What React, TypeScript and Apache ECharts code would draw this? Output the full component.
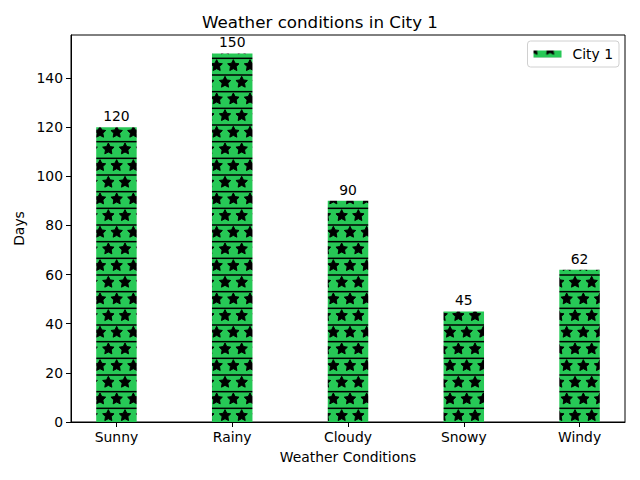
import React, { useEffect, useRef } from "react";
import * as echarts from "echarts";

const categories = ["Sunny", "Rainy", "Cloudy", "Snowy", "Windy"];
const days = [120, 150, 90, 45, 62];
const yTicks = [0, 20, 40, 60, 80, 100, 120, 140];
const seriesName = "City 1";
const FONT = "DejaVu Sans";
const GREEN = "#27c856";

function makeHatch(): HTMLCanvasElement {
  const size = 100;
  const c = document.createElement("canvas");
  c.width = size;
  c.height = size;
  const ctx = c.getContext("2d")!;
  ctx.fillStyle = GREEN;
  ctx.fillRect(0, 0, size, size);
  const step = size / 6;
  ctx.fillStyle = "#000";
  for (let k = -1; k <= 6; k++) {
    const y = step / 2 + k * step;
    ctx.fillRect(0, y - 0.75, size, 1.5);
  }
  const R = 6.0;
  const r = R * 0.5;
  ctx.strokeStyle = "#000";
  ctx.lineWidth = 1;
  for (let k = -1; k <= 7; k++) {
    const cy = k * step - 1;
    const off = Math.abs(k) % 2 === 1 ? step / 2 : 0;
    for (let j = -1; j <= 7; j++) {
      const cx = j * step + off;
      ctx.beginPath();
      for (let i = 0; i < 10; i++) {
        const rad = i % 2 === 0 ? R : r;
        const a = -Math.PI / 2 + (i * Math.PI) / 5;
        const x = cx + rad * Math.cos(a);
        const y = cy + rad * Math.sin(a);
        if (i === 0) ctx.moveTo(x, y);
        else ctx.lineTo(x, y);
      }
      ctx.closePath();
      ctx.fill();
      ctx.stroke();
    }
  }
  return c;
}

export default function App() {
  const ref = useRef<HTMLDivElement>(null);
  useEffect(() => {
    if (!ref.current) return;
    const chart = echarts.init(ref.current, null, { renderer: "svg" });
    const pattern = { image: makeHatch(), repeat: "repeat" } as any;
    const xIdx = categories.map((_, i) => i);
    chart.setOption({
      animation: false,
      backgroundColor: "#fff",
      textStyle: { fontFamily: FONT },
      title: {
        text: "Weather conditions in City 1",
        left: "center",
        top: 8,
        textStyle: { fontFamily: FONT, fontSize: 16.7, fontWeight: "normal", color: "#000" },
      },
      legend: {
        right: 21,
        top: 41,
        data: [seriesName],
        icon: "rect",
        itemWidth: 28,
        itemHeight: 7,
        itemGap: 10,
        padding: [6, 6, 6, 6],
        borderColor: "#d0d0d0",
        borderWidth: 1,
        borderRadius: 3,
        backgroundColor: "#fff",
        textStyle: { fontFamily: FONT, fontSize: 13.9, color: "#000", padding: [0, 0, 0, 6] },
      },
      grid: {
        left: 71,
        right: 15,
        top: 35,
        bottom: 58,
        show: true,
        borderColor: "#000",
        borderWidth: 1,
        backgroundColor: "transparent",
      },
      xAxis: {
        type: "value",
        min: -0.3925,
        max: 4.3925,
        name: "Weather Conditions",
        nameLocation: "middle",
        nameGap: 28,
        nameTextStyle: { fontFamily: FONT, fontSize: 13.9, color: "#000" },
        axisLine: { show: true, onZero: false, lineStyle: { color: "#000", width: 1 } },
        axisTick: { show: true, length: 5, customValues: xIdx, lineStyle: { color: "#000" } },
        axisLabel: {
          customValues: xIdx,
          formatter: (v: number) => categories[Math.round(v)] ?? "",
          fontFamily: FONT,
          fontSize: 13.9,
          color: "#000",
          margin: 8,
        },
        splitLine: { show: false },
      },
      yAxis: {
        type: "value",
        min: 0,
        max: 157.5,
        name: "Days",
        nameLocation: "middle",
        nameGap: 38,
        nameTextStyle: { fontFamily: FONT, fontSize: 13.9, color: "#000" },
        axisLine: { show: true, onZero: false, lineStyle: { color: "#000", width: 1 } },
        axisTick: { show: true, length: 5, customValues: yTicks, lineStyle: { color: "#000" } },
        axisLabel: {
          customValues: yTicks,
          fontFamily: FONT,
          fontSize: 13.9,
          color: "#000",
          margin: 8,
        },
        splitLine: { show: false },
      },
      series: [
        {
          name: seriesName,
          type: "bar",
          barWidth: 40.5,
          data: days.map((v, i) => [i, v]),
          itemStyle: { color: pattern },
          label: {
            show: true,
            position: "top",
            distance: 4,
            fontFamily: FONT,
            fontSize: 13.9,
            color: "#000",
          },
        },
      ],
    });
    return () => chart.dispose();
  }, []);
  return (
    <div
      ref={ref}
      style={{ position: "absolute", left: 0, top: 0, width: 640, height: 480 }}
    />
  );
}
